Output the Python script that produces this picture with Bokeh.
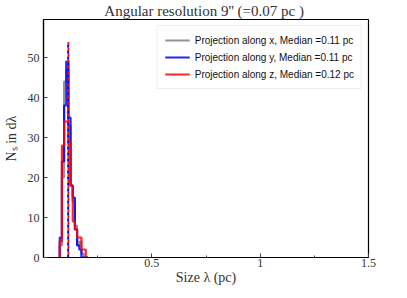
from bokeh.plotting import figure
from bokeh.models import FixedTicker, Legend, LegendItem, Title
from bokeh.embed import file_html
from bokeh.resources import INLINE

# ---- data ----
bin_edges = [0.075, 0.085, 0.095, 0.105, 0.115, 0.125, 0.135, 0.145,
             0.155, 0.165, 0.175, 0.185, 0.195, 0.205]
counts_x = [3, 20, 44, 47, 33, 18, 14, 8, 3, 4, 1, 0, 0]
counts_y = [5, 24, 38, 49, 35, 18, 15, 7, 3, 2, 0, 0, 0]
counts_z = [4, 28, 34, 34, 29, 18, 9, 7, 5, 5, 2, 2, 0]
medians = [0.114, 0.114, 0.115]
labels = ["Projection along x, Median =0.11 pc",
          "Projection along y, Median =0.11 pc",
          "Projection along z, Median =0.12 pc"]
colors = ["#808080", "#0000ff", "#ff0000"]
x_ticks = [0.5, 1, 1.5]
x_minor = [0.25, 0.75, 1.25]
y_ticks = [0, 10, 20, 30, 40, 50]

p = figure(frame_width=325, frame_height=238, output_backend="svg", toolbar_location=None,
           x_range=(0, 1.5), y_range=(0, 59.5),
           min_border_left=34, min_border_right=24, min_border_top=4, min_border_bottom=0)
p.grid.visible = False
p.outline_line_color = "black"
p.outline_line_width = 1.2

p.title = Title(text="Angular resolution 9''  (=0.07 pc )", align="center",
                text_font="Liberation Serif", text_font_size="15px",
                text_font_style="normal", text_color="#333333", standoff=1, offset=0)

serif = "Liberation Serif"
for ax in (p.xaxis[0], p.yaxis[0]):
    ax.major_label_text_font = serif
    ax.major_label_text_font_size = "12px"
    ax.major_label_text_color = "#333333"
    ax.axis_label_text_font = serif
    ax.axis_label_text_font_size = "14px"
    ax.axis_label_text_font_style = "normal"
    ax.axis_label_text_color = "#333333"
    ax.major_tick_in = 4
    ax.major_tick_out = 0
    ax.minor_tick_in = 2
    ax.minor_tick_out = 0
    ax.axis_line_color = "black"
    ax.axis_line_width = 1.2
    ax.major_tick_line_color = "#444444"
    ax.minor_tick_line_color = "#444444"

p.xaxis.ticker = FixedTicker(ticks=x_ticks, minor_ticks=x_minor)
p.yaxis.ticker = FixedTicker(ticks=y_ticks, minor_ticks=[])
p.xaxis.major_label_standoff = 1
p.yaxis.major_label_standoff = 4
p.xaxis.axis_label = "Size λ (pc)"
p.yaxis.axis_label = "Nₛ in dλ"
p.xaxis.axis_label_standoff = 0
p.yaxis.axis_label_standoff = 6

items = []
top = 1.1 * max(max(counts_x), max(counts_y), max(counts_z))
for counts, col, lab in zip([counts_x, counts_y, counts_z], colors, labels):
    xs = [bin_edges[0]] + bin_edges
    ys = [0] + counts + [0]
    r = p.step(xs, ys, mode="after", line_color=col, line_width=2.2, line_alpha=0.85)
    items.append(LegendItem(label=lab, renderers=[r]))

for i, (med, col) in enumerate(zip(medians, colors)):
    p.segment(x0=[med], y0=[0], x1=[med], y1=[top], line_color=col,
              line_width=1.8, line_dash="3 3", line_dash_offset=3 if i == 2 else 0)

legend = Legend(items=items, location="top_right",
                label_text_font="Liberation Sans", label_text_font_size="10px",
                label_text_color="#111111",
                glyph_width=25, glyph_height=14, label_height=14, spacing=3,
                padding=7, margin=6, border_line_color="#dddddd",
                border_line_width=1, background_fill_alpha=0.9)
p.add_layout(legend)

open("out.html", "w").write(file_html(p, INLINE))
